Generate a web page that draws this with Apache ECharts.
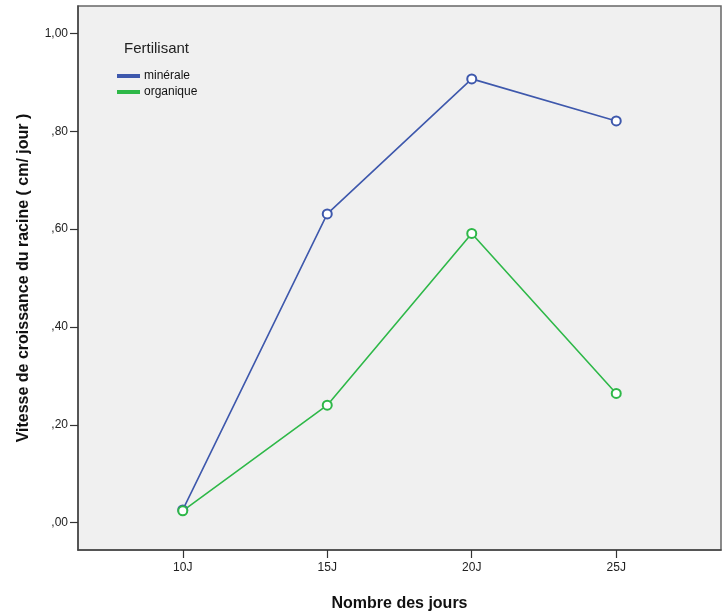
<!DOCTYPE html>
<html>
<head>
<meta charset="utf-8">
<script src="https://cdn.jsdelivr.net/npm/echarts@6/dist/echarts.min.js"></script>
<style>
html,body{margin:0;padding:0;background:#fff;}
#chart{width:726px;height:611px;}
</style>
</head>
<body>
<div id="chart"></div>
<script>
// Data
const categories = ['10J', '15J', '20J', '25J'];
const mineraleValues = [0.026, 0.631, 0.907, 0.821];
const organiqueValues = [0.024, 0.240, 0.591, 0.264];
const yTickValues = [0, 0.2, 0.4, 0.6, 0.8, 1.0];
const yTickLabels = [',00', ',20', ',40', ',60', ',80', '1,00'];
const seriesNames = ['minérale', 'organique'];

const font = 'Liberation Sans, Arial, sans-serif';
const toPoints = arr => arr.map((v, i) => [i, v]);

const chart = echarts.init(document.getElementById('chart'), null, {renderer: 'canvas'});
chart.setOption({
  backgroundColor: '#ffffff',
  animation: false,
  textStyle: {fontFamily: font},
  title: {
    text: 'Fertilisant',
    left: 124, top: 41, padding: 0,
    textStyle: {fontFamily: font, fontSize: 15, fontWeight: 'normal', color: '#222'}
  },
  legend: {
    orient: 'vertical',
    left: 117, top: 69, padding: 0,
    itemWidth: 21, itemHeight: 2, itemGap: 2,
    icon: 'rect',
    textStyle: {fontFamily: font, fontSize: 12, color: '#111', lineHeight: 14},
    data: seriesNames
  },
  grid: {
    left: 78, top: 6, right: 5, bottom: 61,
    outerBoundsMode: 'none',
    containLabel: false,
    show: true,
    backgroundColor: '#f0f0f0',
    borderColor: '#666',
    borderWidth: 1.5
  },
  xAxis: {
    type: 'value',
    min: -0.725, max: 3.725,
    name: 'Nombre des jours',
    nameLocation: 'middle',
    nameGap: 46,
    nameTextStyle: {fontFamily: font, fontSize: 16, fontWeight: 'bold', color: '#111'},
    splitLine: {show: false},
    axisLine: {show: true, onZero: false, lineStyle: {color: '#444', width: 1.5}},
    axisTick: {show: true, customValues: [0, 1, 2, 3], length: 8, inside: false, lineStyle: {color: '#333', width: 1.2}},
    axisLabel: {
      customValues: [0, 1, 2, 3],
      margin: 12,
      fontFamily: font, fontSize: 12, color: '#222',
      formatter: v => categories[Math.round(v)]
    }
  },
  yAxis: {
    type: 'value',
    min: -0.056, max: 1.056,
    name: 'Vitesse de croissance du racine ( cm/ jour )',
    nameLocation: 'middle',
    nameGap: 46,
    nameRotate: 90,
    nameTextStyle: {fontFamily: font, fontSize: 16, fontWeight: 'bold', color: '#111'},
    splitLine: {show: false},
    axisLine: {show: true, onZero: false, lineStyle: {color: '#444', width: 1.5}},
    axisTick: {show: true, customValues: yTickValues, length: 8, inside: false, lineStyle: {color: '#333', width: 1.2}},
    axisLabel: {
      customValues: yTickValues,
      margin: 10,
      fontFamily: font, fontSize: 12, color: '#222',
      formatter: v => {
        const idx = yTickValues.findIndex(t => Math.abs(t - v) < 1e-6);
        return idx >= 0 ? yTickLabels[idx] : '';
      }
    }
  },
  series: [
    {
      name: seriesNames[0],
      type: 'line',
      data: toPoints(mineraleValues),
      symbol: 'emptyCircle',
      symbolSize: 9,
      color: '#3e58ac',
      lineStyle: {color: '#3e58ac', width: 1.6},
      itemStyle: {color: '#3e58ac', borderColor: '#3e58ac', borderWidth: 1.2}
    },
    {
      name: seriesNames[1],
      type: 'line',
      data: toPoints(organiqueValues),
      symbol: 'emptyCircle',
      symbolSize: 9,
      color: '#2eb848',
      lineStyle: {color: '#2eb848', width: 1.6},
      itemStyle: {color: '#2eb848', borderColor: '#2eb848', borderWidth: 1.2}
    }
  ]
});
</script>
</body>
</html>
